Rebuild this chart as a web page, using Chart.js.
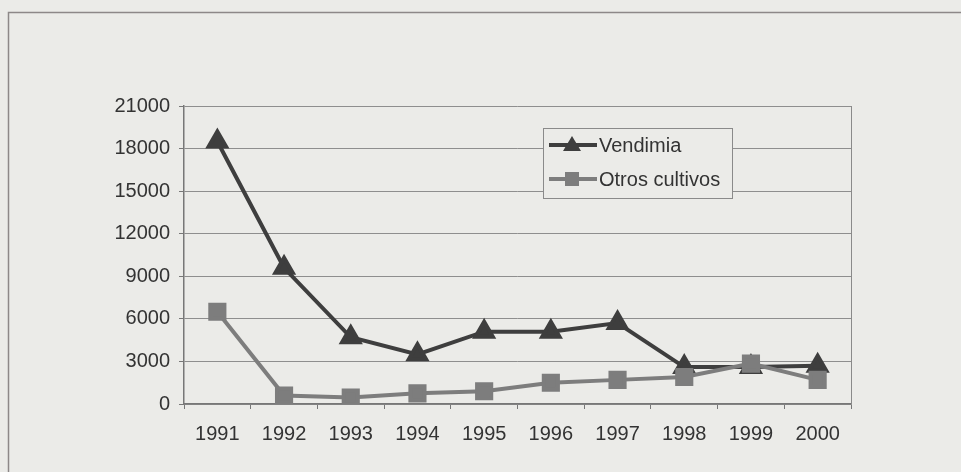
<!DOCTYPE html>
<html>
<head>
<meta charset="utf-8">
<title>Vendimia y otros cultivos</title>
<script src="https://cdn.jsdelivr.net/npm/chart.js@4.4.1/dist/chart.umd.min.js"></script>
<style>
    html, body { margin: 0; padding: 0; background: #ebebe8; }
    #wrap { position: relative; width: 961px; height: 472px; }
</style>
</head>
<body>
<div id="wrap"><canvas id="lineChart" width="961" height="472"></canvas></div>
<script>
'use strict';

var years = ['1991', '1992', '1993', '1994', '1995', '1996', '1997', '1998', '1999', '2000'];
var vendimia = [18500, 9600, 4700, 3500, 5100, 5100, 5700, 2600, 2600, 2700];
var otrosCultivos = [6500, 600, 450, 750, 900, 1500, 1700, 1900, 2850, 1700];
var seriesNames = ['Vendimia', 'Otros cultivos'];
var yTicks = [0, 3000, 6000, 9000, 12000, 15000, 18000, 21000];

var FONT = '"Liberation Sans", Arial, sans-serif';
var BG = '#ebebe8';
var DARK = '#3e3e3e';
var GREY = '#7d7d7d';

// page frame + plot border, legend sits inside the plot like the excel one
var framePlugin = {
    id: 'frame',
    beforeDraw: function (chart) {
        var ctx = chart.ctx;
        ctx.save();
        ctx.fillStyle = BG;
        ctx.fillRect(0, 0, chart.width, chart.height);
        ctx.strokeStyle = '#8d8888';
        ctx.lineWidth = 1.5;
        ctx.beginPath();
        ctx.moveTo(8.5, chart.height);
        ctx.lineTo(8.5, 12.5);
        ctx.lineTo(chart.width, 12.5);
        ctx.stroke();
        ctx.restore();
    },
    beforeDatasetsDraw: function (chart) {
        var a = chart.chartArea;
        var ctx = chart.ctx;
        ctx.save();
        ctx.strokeStyle = '#8a8a8a';
        ctx.lineWidth = 1;
        ctx.beginPath();
        ctx.moveTo(Math.round(a.right) + 0.5, a.top);
        ctx.lineTo(Math.round(a.right) + 0.5, a.bottom);
        ctx.stroke();
        ctx.restore();
    },
    afterDraw: function (chart) {
        var ctx = chart.ctx;
        var box = { x: 543, y: 128, w: 189, h: 70 };
        ctx.save();
        ctx.fillStyle = BG;
        ctx.fillRect(box.x, box.y, box.w, box.h);
        ctx.strokeStyle = '#8a8a8a';
        ctx.lineWidth = 1;
        ctx.strokeRect(box.x + 0.5, box.y + 0.5, box.w, box.h);

        var rows = [145, 179];
        chart.data.datasets.forEach(function (ds, i) {
            var y = rows[i];
            ctx.strokeStyle = ds.borderColor;
            ctx.lineWidth = 4;
            ctx.beginPath();
            ctx.moveTo(549, y);
            ctx.lineTo(597, y);
            ctx.stroke();
            ctx.fillStyle = ds.pointBackgroundColor;
            if (ds.pointStyle === 'triangle') {
                ctx.beginPath();
                ctx.moveTo(572, y - 9);
                ctx.lineTo(581, y + 6);
                ctx.lineTo(563, y + 6);
                ctx.closePath();
                ctx.fill();
            } else {
                ctx.fillRect(565, y - 7, 14, 14);
            }
            ctx.fillStyle = '#333';
            ctx.font = '20px ' + FONT;
            ctx.textBaseline = 'middle';
            ctx.fillText(ds.label, 599, y + 1);
        });
        ctx.restore();
    }
};

var lineChartData = {
    labels: years,
    datasets: [
        {
            label: seriesNames[0],
            data: vendimia,
            order: 1,
            borderColor: DARK,
            backgroundColor: DARK,
            pointBackgroundColor: DARK,
            pointBorderColor: DARK,
            pointStyle: 'triangle',
            pointRadius: 10,
            borderWidth: 4,
            tension: 0
        },
        {
            label: seriesNames[1],
            data: otrosCultivos,
            order: 0,
            borderColor: GREY,
            backgroundColor: GREY,
            pointBackgroundColor: GREY,
            pointBorderColor: GREY,
            pointStyle: 'rect',
            pointRadius: 10,
            borderWidth: 4,
            tension: 0
        }
    ]
};

var lineChartOptions = {
    responsive: false,
    animation: false,
    layout: { padding: { top: 106, right: 110, left: 0, bottom: 0 } },
    plugins: {
        legend: { display: false },
        tooltip: { enabled: false }
    },
    scales: {
        x: {
            offset: true,
            grid: {
                offset: true,
                drawOnChartArea: false,
                color: '#777',
                tickLength: 5,
                tickWidth: 1
            },
            border: { color: '#777', width: 1.5 },
            ticks: { color: '#333', font: { family: FONT, size: 20 }, padding: 13, maxRotation: 0 },
            afterFit: function (scale) { scale.height = 68; }
        },
        y: {
            min: 0,
            max: 21000,
            afterBuildTicks: function (scale) {
                scale.ticks = yTicks.map(function (v) { return { value: v }; });
            },
            grid: {
                color: '#8e8e8e',
                lineWidth: 1,
                tickLength: 5,
                tickColor: '#777'
            },
            border: { color: '#777', width: 1.5 },
            ticks: {
                color: '#333',
                font: { family: FONT, size: 20 },
                padding: 9,
                callback: function (v) { return String(v); }
            },
            afterFit: function (scale) { scale.width = 184; }
        }
    }
};

var ctx = document.getElementById('lineChart').getContext('2d');
new Chart(ctx, { type: 'line', data: lineChartData, options: lineChartOptions, plugins: [framePlugin] });
</script>
</body>
</html>
